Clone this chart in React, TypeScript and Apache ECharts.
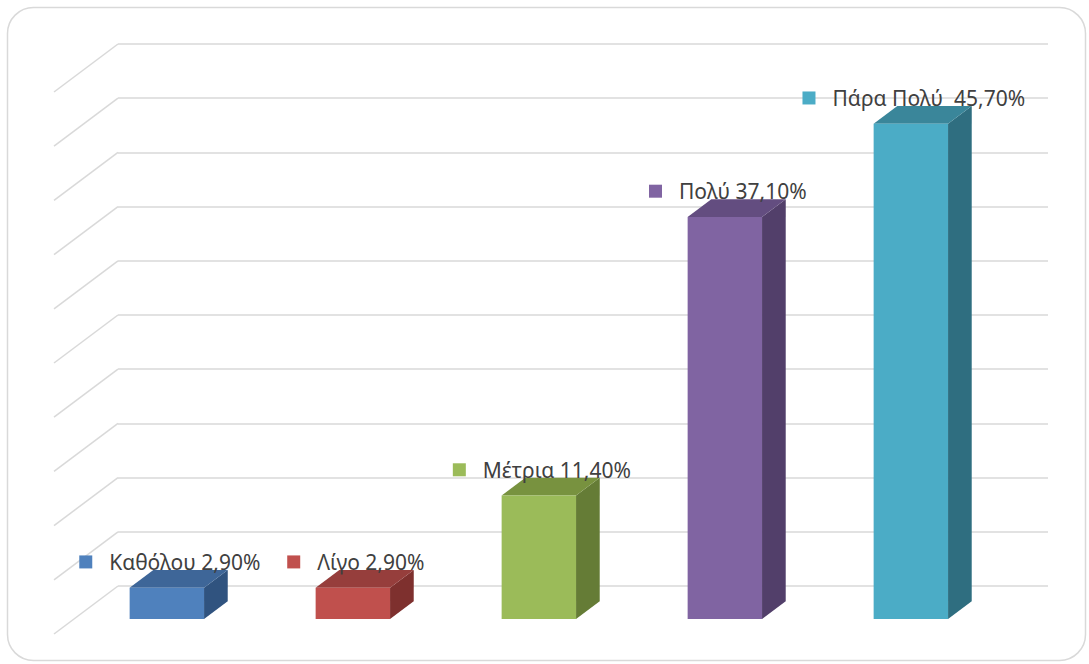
import React, { useEffect, useRef } from "react";
import * as echarts from "echarts";

// Survey answers and their shares (%)
const categories = ["Καθόλου", "Λίγο", "Μέτρια", "Πολύ", "Πάρα Πολύ"];
const values = [2.9, 2.9, 11.4, 37.1, 45.7];
const labelNames = ["Καθόλου", "Λίγο", "Μέτρια", "Πολύ", "Πάρα Πολύ "];

// Value axis (no labels drawn, only the wall gridlines)
const axisMin = 0;
const axisMax = 50;
const axisStep = 5;
const gridValues = [0, 5, 10, 15, 20, 25, 30, 35, 40, 45, 50];

// Face colours of each 3D column
const frontColors = ["#4F81BD", "#C0504D", "#9BBB59", "#8064A2", "#4BACC6"];
const topColors = ["#3E6698", "#963E3C", "#78923F", "#634D80", "#3A869A"];
const sideColors = ["#30537F", "#7E302E", "#657C36", "#523F6A", "#2F6E80"];

const FONT = "'Noto Sans', 'Liberation Sans', Arial, sans-serif";
const GRID_COLOR = "#d9d9d9";

// Projection of the floor depth: back wall -> front edge
const FLOOR_DX = -64;
const FLOOR_DY = 48;
const BACK_FRAC = 0.32;
const FRONT_FRAC = 0.69;

const fmt = (v: number) => v.toFixed(2).replace(".", ",") + "%";

export default function App() {
  const ref = useRef<HTMLDivElement>(null);

  useEffect(() => {
    if (!ref.current) return;
    const chart = echarts.init(ref.current, undefined, { renderer: "svg" });

    const option: any = {
      animation: false,
      backgroundColor: "#ffffff",
      textStyle: { fontFamily: FONT },
      graphic: [
        {
          type: "rect",
          shape: { x: 7.5, y: 7.5, width: 1078, height: 653, r: 26 },
          style: { fill: "none", stroke: GRID_COLOR, lineWidth: 1.5 },
          silent: true,
          z: -10,
        },
      ],
      grid: { left: 118, right: 41, top: 44, bottom: 78 },
      xAxis: {
        type: "category",
        data: categories,
        axisLine: { show: false },
        axisTick: { show: false },
        axisLabel: { show: false },
      },
      yAxis: {
        type: "value",
        min: axisMin,
        max: axisMax,
        interval: axisStep,
        axisLine: { show: false },
        axisTick: { show: false },
        axisLabel: { show: false },
        splitLine: { lineStyle: { color: GRID_COLOR, width: 1.5 } },
      },
      series: [
        {
          // diagonal side-wall gridlines
          type: "custom",
          clip: false,
          silent: true,
          z: 1,
          data: gridValues.map((g) => [0, g]),
          renderItem: (params: any, api: any) => {
            const y = api.coord([0, api.value(1)])[1];
            const x0 = params.coordSys.x;
            return {
              type: "line",
              shape: { x1: x0, y1: y, x2: x0 + FLOOR_DX, y2: y + FLOOR_DY },
              style: { stroke: GRID_COLOR, lineWidth: 1.5 },
            };
          },
        },
        {
          // 3D columns with their labels
          type: "custom",
          clip: false,
          z: 2,
          data: values.map((v, i) => [i, v]),
          renderItem: (params: any, api: any) => {
            const i = api.value(0);
            const v = api.value(1);
            const top = api.coord([i, v]);
            const base = api.coord([i, 0]);
            const band = api.size([1, 0])[0];
            const hw = band * 0.2;
            const bdx = FLOOR_DX * BACK_FRAC;
            const bdy = FLOOR_DY * BACK_FRAC;
            const fdx = FLOOR_DX * FRONT_FRAC;
            const fdy = FLOOR_DY * FRONT_FRAC;
            const fx = top[0] + fdx;
            const bx = top[0] + bdx;
            const fTop = top[1] + fdy;
            const fBot = base[1] + fdy;
            const bTop = top[1] + bdy;
            const bBot = base[1] + bdy;
            const idx = params.dataIndex;
            return {
              type: "group",
              children: [
                {
                  type: "polygon",
                  shape: {
                    points: [
                      [fx + hw, fTop],
                      [bx + hw, bTop],
                      [bx + hw, bBot],
                      [fx + hw, fBot],
                    ],
                  },
                  style: { fill: sideColors[idx] },
                },
                {
                  type: "polygon",
                  shape: {
                    points: [
                      [fx - hw, fTop],
                      [bx - hw, bTop],
                      [bx + hw, bTop],
                      [fx + hw, fTop],
                    ],
                  },
                  style: { fill: topColors[idx] },
                },
                {
                  type: "polygon",
                  shape: {
                    points: [
                      [fx - hw, fTop],
                      [fx + hw, fTop],
                      [fx + hw, fBot],
                      [fx - hw, fBot],
                    ],
                  },
                  style: { fill: frontColors[idx] },
                },
                {
                  type: "text",
                  x: fx + 3,
                  y: bTop - 8,
                  style: {
                    text: `{sq|}{gap|}{t|${labelNames[idx]} ${fmt(v)}}`,
                    align: "center",
                    verticalAlign: "middle",
                    rich: {
                      sq: { width: 13, height: 13, backgroundColor: frontColors[idx] },
                      gap: { width: 17, height: 13 },
                      t: { fontSize: 21, fontFamily: FONT, fill: "#404040" },
                    },
                  },
                },
              ],
            };
          },
        },
      ],
    };

    chart.setOption(option);
    return () => chart.dispose();
  }, []);

  return (
    <div
      ref={ref}
      style={{ position: "fixed", left: 0, top: 0, width: 1089, height: 664 }}
    />
  );
}
